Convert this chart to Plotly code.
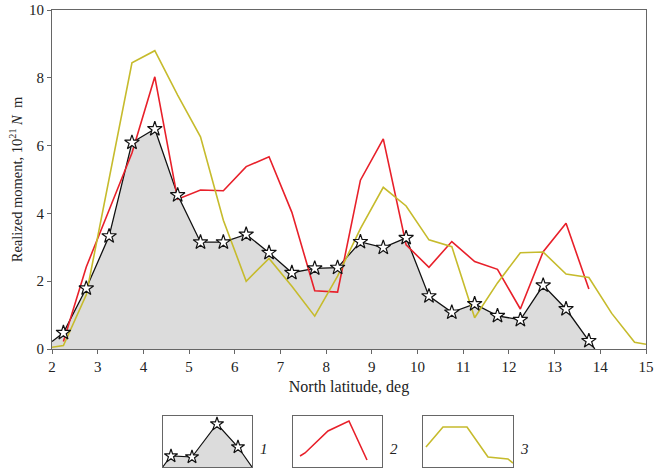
import plotly.graph_objects as go

# ---- data ----
lat = [2.25, 2.75, 3.25, 3.75, 4.25, 4.75, 5.25, 5.75, 6.25, 6.75, 7.25, 7.75,
       8.25, 8.75, 9.25, 9.75, 10.25, 10.75, 11.25, 11.75, 12.25, 12.75, 13.25, 13.75]
moment1 = [0.48, 1.79, 3.33, 6.09, 6.49, 4.54, 3.15, 3.15, 3.38, 2.84, 2.25, 2.38,
           2.40, 3.16, 2.99, 3.28, 1.56, 1.08, 1.33, 0.98, 0.86, 1.88, 1.18, 0.24]
ends1_x = [2.0, 13.88]
ends1_y = [0.22, 0.0]

moment2 = [0.22, 2.42, 4.1, 5.78, 8.03, 4.42, 4.69, 4.67, 5.38, 5.67, 4.03, 1.72,
           1.68, 4.98, 6.2, 3.07, 2.41, 3.17, 2.58, 2.35, 1.18, 2.87, 3.71, 1.77]

lat3 = [2.0, 2.25, 2.75, 3.25, 3.75, 4.25, 4.75, 5.25, 5.75, 6.25, 6.75, 7.25, 7.75,
        8.25, 8.75, 9.25, 9.75, 10.25, 10.75, 11.25, 11.75, 12.25, 12.75, 13.25,
        13.75, 14.25, 14.75, 15.0]
moment3 = [0.05, 0.1, 1.6, 5.0, 8.44, 8.8, 7.49, 6.26, 3.8, 2.0, 2.67, 1.85, 0.97,
           2.15, 3.55, 4.77, 4.22, 3.22, 3.02, 0.92, 1.95, 2.84, 2.86, 2.21,
           2.11, 1.05, 0.2, 0.14]

x_ticks = list(range(2, 16))
y_ticks = [0, 2, 4, 6, 8, 10]

# legend sample glyphs (box-relative coordinates)
leg1_x = [0.0, 0.093, 0.328, 0.608, 0.843, 1.0]
leg1_y = [0.0, 0.216, 0.196, 0.843, 0.392, 0.0]
leg2_x = [0.082, 0.138, 0.395, 0.63, 0.832]
leg2_y = [0.216, 0.275, 0.706, 0.902, 0.137]
leg3_x = [0.033, 0.222, 0.489, 0.722, 0.944, 1.0]
leg3_y = [0.392, 0.784, 0.784, 0.196, 0.157, 0.078]
leg_labels = ["1", "2", "3"]

BLACK = "#111111"
RED = "#e8202a"
YEL = "#c6bb2c"
GRAY = "#dcdcdc"
FRAME = "#666666"
FONT = "Liberation Serif"

# ---- figure ----
fig = go.Figure()

full1_x = [ends1_x[0]] + lat + [ends1_x[1]]
full1_y = [ends1_y[0]] + moment1 + [ends1_y[1]]

fig.add_trace(go.Scatter(x=full1_x, y=full1_y, mode="lines", fill="tozeroy",
                         fillcolor=GRAY, line=dict(color=BLACK, width=1.3),
                         hoverinfo="skip", showlegend=False))
fig.add_trace(go.Scatter(x=lat, y=moment2, mode="lines",
                         line=dict(color=RED, width=1.6), showlegend=False))
fig.add_trace(go.Scatter(x=lat3, y=moment3, mode="lines",
                         line=dict(color=YEL, width=1.6), showlegend=False))
fig.add_trace(go.Scatter(x=lat, y=moment1, mode="markers",
                         marker=dict(symbol="star", size=11, color="white",
                                     line=dict(color=BLACK, width=1.2)),
                         showlegend=False))

# legend boxes
fig.add_trace(go.Scatter(x=leg1_x, y=leg1_y, mode="lines", fill="tozeroy",
                         fillcolor=GRAY, line=dict(color=BLACK, width=1.2),
                         xaxis="x2", yaxis="y2", showlegend=False))
fig.add_trace(go.Scatter(x=leg1_x[1:-1], y=leg1_y[1:-1], mode="markers",
                         marker=dict(symbol="star", size=10, color="white",
                                     line=dict(color=BLACK, width=1.2)),
                         xaxis="x2", yaxis="y2", showlegend=False))
fig.add_trace(go.Scatter(x=leg2_x, y=leg2_y, mode="lines",
                         line=dict(color=RED, width=1.6),
                         xaxis="x3", yaxis="y3", showlegend=False))
fig.add_trace(go.Scatter(x=leg3_x, y=leg3_y, mode="lines",
                         line=dict(color=YEL, width=1.6),
                         xaxis="x4", yaxis="y4", showlegend=False))

W, H = 654, 468
ml, mr, mt, mb = 52, 8, 10, 0
pw = W - ml - mr
ph = H - mt - mb


def px_x(q):
    return (q - ml) / pw


def px_y(p):
    return (H - mb - p) / ph


main_bottom = px_y(349)

box_axis = dict(range=[0, 1], showticklabels=False, ticks="", showgrid=False,
                zeroline=False, showline=True, mirror=True, linecolor=FRAME,
                linewidth=1, fixedrange=True, automargin=False)

fig.update_layout(
    width=W, height=H,
    margin=dict(l=ml, r=mr, t=mt, b=mb),
    paper_bgcolor="white", plot_bgcolor="white",
    font=dict(family=FONT, size=14, color="#222"),
    xaxis=dict(range=[2, 15], tickvals=x_ticks, ticks="outside", ticklen=4,
               tickcolor=FRAME, showgrid=False, zeroline=False, showline=True,
               mirror=True, linecolor=FRAME, linewidth=1, automargin=False,
               tickfont=dict(size=15, family=FONT),
               title=dict(text="North latitude, deg", font=dict(size=16, family=FONT),
                          standoff=6),
               anchor="y", domain=[0, 1]),
    yaxis=dict(range=[0, 10], tickvals=y_ticks, ticks="outside", ticklen=4,
               tickcolor=FRAME, showgrid=False, zeroline=False, showline=True,
               mirror=True, linecolor=FRAME, linewidth=1, automargin=False,
               tickfont=dict(size=15, family=FONT),
               title=dict(text="Realized moment, 10<sup>21</sup> <i>N</i>  m",
                          font=dict(size=14.5, family=FONT), standoff=2),
               domain=[main_bottom, 1], anchor="x"),
    xaxis2=dict(box_axis, domain=[px_x(162.7), px_x(252)], anchor="y2"),
    yaxis2=dict(box_axis, domain=[px_y(467), px_y(416)], anchor="x2"),
    xaxis3=dict(box_axis, domain=[px_x(292.7), px_x(382)], anchor="y3"),
    yaxis3=dict(box_axis, domain=[px_y(467), px_y(416)], anchor="x3"),
    xaxis4=dict(box_axis, domain=[px_x(423), px_x(513)], anchor="y4"),
    yaxis4=dict(box_axis, domain=[px_y(467), px_y(416)], anchor="x4"),
)

for q, lab in zip([264, 394, 524], leg_labels):
    fig.add_annotation(text=f"<i>{lab}</i>", x=px_x(q), y=px_y(440),
                       xref="paper", yref="paper", showarrow=False,
                       xanchor="center", yanchor="middle", yshift=-9,
                       font=dict(size=15, family=FONT, color="#222"))

# remove the default 8px body margin so the figure fills the window exactly
fig.write_html("out.html", config={"displayModeBar": False},
               post_script="document.body.style.margin='0px';")
